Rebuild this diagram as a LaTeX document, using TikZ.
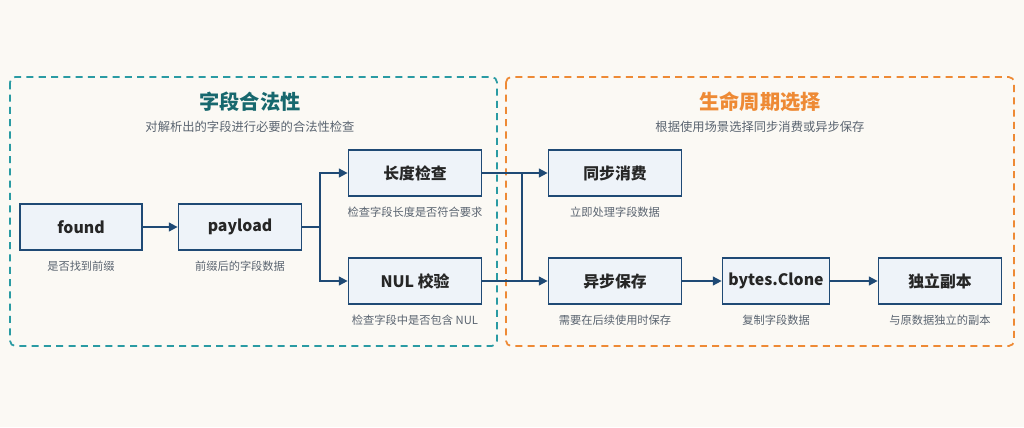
\documentclass[tikz,border=0pt]{standalone}
\usepackage{fontspec}
\setmainfont{Noto Sans CJK SC}
\usetikzlibrary{positioning,arrows.meta}
\definecolor{boxline}{HTML}{1F4A75}
\definecolor{boxfill}{HTML}{EEF3F9}
\definecolor{teal}{HTML}{2A9BA3}
\definecolor{tealtxt}{HTML}{17686E}
\definecolor{orng}{HTML}{EE8A35}
\definecolor{captxt}{HTML}{5A6470}
\definecolor{bg}{HTML}{FBF9F4}
\tikzset{every picture/.style={line width=0.75pt}}
\tikzset{
  stage/.style={draw=boxline, fill=boxfill, line width=1pt, minimum height=0.92cm, font=\fontsize{9}{11}\selectfont\bfseries, text=black!85},
  note/.style={font=\fontsize{6.4}{8}\selectfont, text=captxt},
  flow/.style={draw=boxline, line width=1pt, -{Triangle[length=5pt,width=5pt]}},
  link/.style={draw=boxline, line width=1pt},
  zone/.style={dashed, line width=1pt, rounded corners=3pt, dash pattern=on 4pt off 3pt}
}
\begin{document}
\begin{tikzpicture}[x=0.02cm, y=-0.02cm]
\fill[bg] (0,0) rectangle (1024,427);
\useasboundingbox (0,0) rectangle (1024,427);
% zones
\draw[zone, draw=teal] (10,77) rectangle (497,346);
\draw[zone, draw=orng] (506,77) rectangle (1014,346);
\node[font=\fontsize{11.5}{13}\selectfont\bfseries, text=tealtxt] (checkT) at (250,102) {字段合法性};
\node[note, font=\fontsize{7}{8}\selectfont] (checkS) at (250,127) {对解析出的字段进行必要的合法性检查};
\node[font=\fontsize{11.5}{13}\selectfont\bfseries, text=orng] (lifeT) at (760,102) {生命周期选择};
\node[note, font=\fontsize{7}{8}\selectfont] (lifeS) at (760,127) {根据使用场景选择同步消费或异步保存};
% stages
\node[stage, minimum width=2.44cm] (found) at (81,227) {found};
\node[stage, minimum width=2.46cm] (payload) at (240,227) {payload};
\node[stage, minimum width=2.66cm] (len) at (415,173) {长度检查};
\node[stage, minimum width=2.66cm] (nul) at (415,281) {NUL 校验};
\node[stage, minimum width=2.66cm] (sync) at (615,173) {同步消费};
\node[stage, minimum width=2.66cm] (async) at (615,281) {异步保存};
\node[stage, minimum width=2.14cm] (clone) at (776,281) {bytes.Clone};
\node[stage, minimum width=2.46cm] (copy) at (940,281) {独立副本};
% captions
\node[note, below=2pt of found] {是否找到前缀};
\node[note, below=2pt of payload] {前缀后的字段数据};
\node[note, below=2pt of len] {检查字段长度是否符合要求};
\node[note, below=2pt of nul] {检查字段中是否包含 NUL};
\node[note, below=2pt of sync] {立即处理字段数据};
\node[note, below=2pt of async] {需要在后续使用时保存};
\node[note, below=2pt of clone] {复制字段数据};
\node[note, below=2pt of copy] {与原数据独立的副本};
% connectors
\coordinate (fork) at (320,227);
\coordinate (join) at (522,173);
\draw[flow] (found) -- (payload);
\draw[link] (payload) -- (fork);
\draw[flow] (fork) |- (len);
\draw[flow] (fork) |- (nul);
\draw[flow] (len) -- (sync);
\draw[flow] (nul) -- (async);
\draw[link] (join) -- (join |- nul.east);
\draw[flow] (async) -- (clone);
\draw[flow] (clone) -- (copy);
\end{tikzpicture}
\end{document}
